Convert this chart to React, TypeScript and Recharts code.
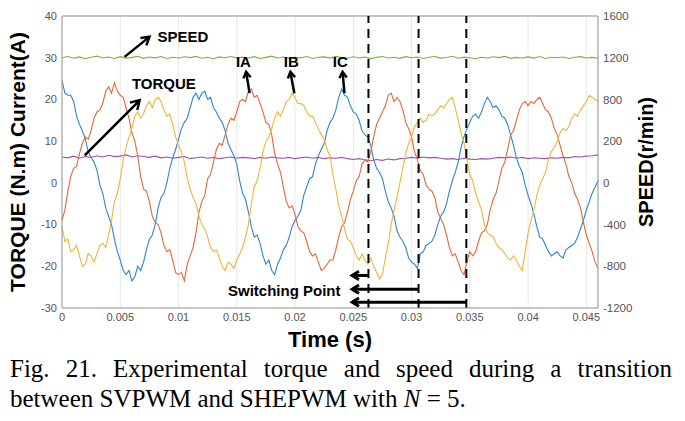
import React from 'react';
import { LineChart, Line, XAxis, YAxis, CartesianGrid, ReferenceLine, ReferenceDot } from 'recharts';

// sample times of the phase currents (s)
const time = [
    0, 0.00025, 0.0005, 0.00075, 0.001, 0.00125, 0.0015, 0.00175, 0.002, 0.00225, 0.0025, 0.00275, 0.003, 0.00325, 0.0035, 0.00375, 0.004, 0.00425, 0.0045, 0.00475,
    0.005, 0.00525, 0.0055, 0.00575, 0.006, 0.00625, 0.0065, 0.00675, 0.007, 0.00725, 0.0075, 0.00775, 0.008, 0.00825, 0.0085, 0.00875, 0.009, 0.00925, 0.0095, 0.00975,
    0.01, 0.01025, 0.0105, 0.01075, 0.011, 0.01125, 0.0115, 0.01175, 0.012, 0.01225, 0.0125, 0.01275, 0.013, 0.01325, 0.0135, 0.01375, 0.014, 0.01425, 0.0145, 0.01475,
    0.015, 0.01525, 0.0155, 0.01575, 0.016, 0.01625, 0.0165, 0.01675, 0.017, 0.01725, 0.0175, 0.01775, 0.018, 0.01825, 0.0185, 0.01875, 0.019, 0.01925, 0.0195, 0.01975,
    0.02, 0.02025, 0.0205, 0.02075, 0.021, 0.02125, 0.0215, 0.02175, 0.022, 0.02225, 0.0225, 0.02275, 0.023, 0.02325, 0.0235, 0.02375, 0.024, 0.02425, 0.0245, 0.02475,
    0.025, 0.02525, 0.0255, 0.02575, 0.026, 0.02625, 0.0265, 0.02675, 0.027, 0.02725, 0.0275, 0.02775, 0.028, 0.02825, 0.0285, 0.02875, 0.029, 0.02925, 0.0295, 0.02975,
    0.03, 0.03025, 0.0305, 0.03075, 0.031, 0.03125, 0.0315, 0.03175, 0.032, 0.03225, 0.0325, 0.03275, 0.033, 0.03325, 0.0335, 0.03375, 0.034, 0.03425, 0.0345, 0.03475,
    0.035, 0.03525, 0.0355, 0.03575, 0.036, 0.03625, 0.0365, 0.03675, 0.037, 0.03725, 0.0375, 0.03775, 0.038, 0.03825, 0.0385, 0.03875, 0.039, 0.03925, 0.0395, 0.03975,
    0.04, 0.04025, 0.0405, 0.04075, 0.041, 0.04125, 0.0415, 0.04175, 0.042, 0.04225, 0.0425, 0.04275, 0.043, 0.04325, 0.0435, 0.04375, 0.044, 0.04425, 0.0445, 0.04475,
    0.045, 0.04525, 0.0455, 0.04575, 0.046,
];

// phase currents (A)
const ia = [
    -9, -6.5, -2, 1.5, 3.5, 4, 7, 9.5, 11, 10.5, 12.5, 15.5, 17, 17.5, 19, 22, 23, 21.5, 24, 22,
    21, 20.5, 18, 15.5, 12, 10, 6.5, 1.5, -1.5, -2, -4.5, -8, -9.5, -10, -12, -15, -16.5, -16, -18.5, -21.5,
    -22, -21.5, -23.5, -19.5, -17.5, -15.5, -12, -7, -4.5, -3, 1, 2, 5, 8, 9.5, 9, 11.5, 14, 15.5, 15,
    17, 19.5, 20, 19.5, 22, 22.5, 20.5, 21, 19, 17, 14.5, 14, 11.5, 7, 4.5, 2.5, -1, -4.5, -6, -5.5,
    -7.5, -10.5, -11.5, -12, -14, -16.5, -17.5, -17, -19, -21, -20.5, -19.5, -18.5, -18.5, -16, -13, -10.5, -9.5, -7, -4,
    -2, 0.5, 1.5, 4.5, 5.5, 5, 7.5, 11, 14, 15.5, 17, 18.5, 21, 21.5, 19.5, 20.5, 19.5, 17.5, 14.5, 13,
    11, 7.5, 5.5, 3, 2, -0.5, -1.5, -2, -3.5, -7, -8.5, -10, -12.5, -15.5, -17.5, -17, -19, -21, -22, -19,
    -16.5, -17.5, -16.5, -14, -12, -11.5, -10, -6.5, -4, -2.5, 0.5, 3.5, 5, 8, 11.5, 12.5, 15, 17.5, 19, 19.5,
    18.5, 19.5, 19, 20, 20.5, 19, 17.5, 17, 15.5, 13, 11.5, 9, 6.5, 4.5, 1.5, 0, -2.5, -4, -6, -9.5,
    -12.5, -14.5, -16.5, -19, -20.5,
];

const ib = [
    -10.5, -14, -13.5, -16.5, -16, -15, -17.5, -20, -19.5, -17, -17.5, -19, -17, -15, -14.5, -15.5, -12.5, -9, -4.5, -2.5,
    1, 5.5, 8.5, 11, 13, 16, 17, 15.5, 16.5, 18.5, 19.5, 18, 20, 20.5, 19.5, 17.5, 16, 16.5, 14, 11,
    9, 7.5, 5, 1, -1.5, -3.5, -5, -8, -10, -11, -13, -15.5, -16.5, -16, -18, -20, -21, -19, -19.5, -20.5,
    -18.5, -17, -15.5, -13, -10, -5, -1, 0.5, 3.5, 7.5, 10, 11, 13, 15.5, 17, 16, 17.5, 19.5, 20, 21.5,
    20.5, 19, 19, 18.5, 17, 16, 16, 14.5, 13, 11.5, 10.5, 8, 6.5, 2, -1.5, -5.5, -8, -11, -13.5, -14,
    -15.5, -17.5, -18.5, -17, -18.5, -19.5, -18, -20, -21.5, -23, -22, -18, -14.5, -10, -6.5, -3.5, 0, 3.5, 7, 9.5,
    11, 13.5, 14.5, 15.5, 14.5, 15, 16.5, 16, 16.5, 17.5, 18.5, 18, 19, 20, 20.5, 18, 15, 12, 9.5, 5.5,
    2, 0.5, -2.5, -4.5, -6.5, -10, -12, -12.5, -13, -14.5, -15.5, -16, -17, -18, -18.5, -17.5, -18.5, -20, -21, -16.5,
    -12, -9, -6.5, -3, -0.5, 1, 2.5, 5.5, 7.5, 8.5, 10, 12, 13, 12.5, 13.5, 15.5, 16.5, 16, 17.5, 18.5,
    19.5, 21, 20.5, 20, 19.5,
];

const ic = [
    24.5, 21.5, 21, 21, 19.5, 16, 14, 12.5, 10.5, 7.5, 6, 5, 3, -0.5, -2.5, -6, -8, -10, -13.5, -16.5,
    -18.5, -21, -22, -21, -23.5, -22.5, -20, -21, -19, -16, -13.5, -12.5, -10, -6, -3.5, -2.5, 0, 3.5, 6, 8,
    10.5, 13, 14.5, 15.5, 18, 20.5, 21.5, 20, 21.5, 22, 20, 20.5, 18, 17, 15.5, 14.5, 12.5, 9.5, 8, 6.5,
    4.5, 0.5, -2.5, -4, -7, -10.5, -13, -12.5, -14.5, -17.5, -19.5, -18.5, -21, -22, -19.5, -18, -16, -15, -13, -10.5,
    -9, -8, -6.5, -3, -1, 1, 1.5, 4.5, 6.5, 8, 9.5, 12.5, 14.5, 15.5, 17.5, 20.5, 22.5, 21, 20.5, 18.5,
    17, 16.5, 15, 12.5, 11.5, 11, 9, 5.5, 3.5, 2.5, 1, -2, -4.5, -6, -8, -11.5, -13, -14, -15.5, -18,
    -19, -19.5, -20.5, -17, -16.5, -15, -14.5, -14, -12.5, -10, -8, -7, -5, -2, 0.5, 2.5, 5, 8.5, 11, 13,
    14.5, 16, 16.5, 15.5, 17, 19, 20.5, 19.5, 18, 18.5, 17.5, 16, 15.5, 14, 11.5, 9, 6, 4, 2.5, -0.5,
    -3, -5, -7.5, -10.5, -13, -13.5, -15, -16.5, -17.5, -17, -16.5, -17.5, -18, -16, -15.5, -15, -14.5, -13, -11, -9,
    -6.5, -4.5, -2.5, -1, 0.5,
];

// sample times of torque and speed (s)
const slowTime = [
    0, 0.0005, 0.001, 0.0015, 0.002, 0.0025, 0.003, 0.0035, 0.004, 0.0045,
    0.005, 0.0055, 0.006, 0.0065, 0.007, 0.0075, 0.008, 0.0085, 0.009, 0.0095,
    0.01, 0.0105, 0.011, 0.0115, 0.012, 0.0125, 0.013, 0.0135, 0.014, 0.0145,
    0.015, 0.0155, 0.016, 0.0165, 0.017, 0.0175, 0.018, 0.0185, 0.019, 0.0195,
    0.02, 0.0205, 0.021, 0.0215, 0.022, 0.0225, 0.023, 0.0235, 0.024, 0.0245,
    0.025, 0.0255, 0.026, 0.0265, 0.027, 0.0275, 0.028, 0.0285, 0.029, 0.0295,
    0.03, 0.0305, 0.031, 0.0315, 0.032, 0.0325, 0.033, 0.0335, 0.034, 0.0345,
    0.035, 0.0355, 0.036, 0.0365, 0.037, 0.0375, 0.038, 0.0385, 0.039, 0.0395,
    0.04, 0.0405, 0.041, 0.0415, 0.042, 0.0425, 0.043, 0.0435, 0.044, 0.0445,
    0.045, 0.0455, 0.046,
];

// torque (N.m)
const torque = [
    6.2, 6.0, 6.4, 5.9, 6.3, 6.1, 6.5, 6.2, 6.6, 6.3,
    6.4, 6.7, 6.2, 6.5, 6.3, 6.1, 6.4, 6.0, 6.2, 5.9,
    6.1, 6.3, 5.8, 6.0, 6.2, 5.9, 6.1, 5.8, 6.0, 6.2,
    5.9, 6.1, 6.0, 5.8, 6.1, 5.9, 6.2, 6.0, 5.9, 6.1,
    5.8, 6.0, 6.2, 5.9, 6.1, 5.8, 6.0, 5.9, 6.1, 5.8,
    5.6, 5.8, 5.5, 5.3, 5.6, 5.4, 5.7, 5.5, 5.8, 5.9,
    6.1, 5.9, 6.2, 6.0, 6.1, 5.9, 5.7, 5.8, 5.6, 5.9,
    5.7, 5.6, 5.8, 5.7, 5.9, 6.1, 6.0, 6.2, 5.9, 6.1,
    5.8, 6.0, 5.9, 5.8, 6.0, 5.9, 6.1, 6.0, 6.3, 6.2,
    6.4, 6.5, 6.7,
];

// speed (r/min)
const speed = [
    1200, 1212, 1195, 1208, 1190, 1204, 1215, 1198, 1206, 1192,
    1210, 1196, 1203, 1214, 1194, 1207, 1199, 1211, 1193, 1205,
    1197, 1209, 1201, 1213, 1195, 1204, 1190, 1208, 1200, 1212,
    1196, 1206, 1198, 1210, 1193, 1203, 1215, 1197, 1207, 1194,
    1205, 1199, 1211, 1192, 1204, 1208, 1196, 1213, 1201, 1195,
    1209, 1197, 1206, 1191, 1203, 1212, 1198, 1205, 1194, 1210,
    1200, 1207, 1193, 1204, 1211, 1196, 1202, 1214, 1195, 1206,
    1199, 1190, 1205, 1197, 1209, 1201, 1213, 1194, 1203, 1198,
    1208, 1196, 1211, 1193, 1205, 1200, 1207, 1192, 1204, 1210,
    1197, 1203, 1195,
];

const xTicks = [0, 0.005, 0.01, 0.015, 0.02, 0.025, 0.03, 0.035, 0.04, 0.045];
const leftTicks = [-30, -20, -10, 0, 10, 20, 30, 40];
const speedTicks = [-1200, -800, -400, 0, 400, 800, 1200, 1600];
const speedTickLabels = ['-1200', '-800', '-400', '0', '200', '800', '1200', '1600'];
const switchTimes = [0.0263, 0.0306, 0.0347];

const currentData = time.map((t, i) => ({ t, ia: ia[i], ib: ib[i], ic: ic[i] }));
const slowData = slowTime.map((t, i) => ({ t, torque: torque[i], speed: speed[i] }));

const FONT = '"Liberation Sans", Arial, sans-serif';

// straight line with an open arrow head at (x2, y2)
const arrow = (w: number, head: number) => (props: any) => {
    const { x1, y1, x2, y2 } = props;
    const a = Math.atan2(y2 - y1, x2 - x1);
    const s = 0.55;
    const p1 = [x2 - head * Math.cos(a - s), y2 - head * Math.sin(a - s)];
    const p2 = [x2 - head * Math.cos(a + s), y2 - head * Math.sin(a + s)];
    return (
        <g>
            <line x1={x1} y1={y1} x2={x2} y2={y2} stroke="#000" strokeWidth={w} />
            <polyline
                points={`${p1[0]},${p1[1]} ${x2},${y2} ${p2[0]},${p2[1]}`}
                fill="none"
                stroke="#000"
                strokeWidth={w}
            />
        </g>
    );
};

const label = (text: string, size: number, anchor: string = 'start') => (props: any) => (
    <text
        x={props.cx}
        y={props.cy}
        fontFamily={FONT}
        fontWeight="bold"
        fontSize={size}
        textAnchor={anchor}
        dominantBaseline="central"
        fill="#000"
    >
        {text}
    </text>
);

const App = () => {
    return (
        <div style={{ position: 'absolute', left: 0, top: 0, width: 685, height: 421, background: '#fff' }}>
            <LineChart width={685} height={356} margin={{ top: 16, right: 37, left: 12, bottom: 0 }}>
                <CartesianGrid stroke="#e8e8e8" />
                <XAxis
                    dataKey="t"
                    type="number"
                    domain={[0, 0.046]}
                    ticks={xTicks}
                    height={48}
                    tickLine={false}
                    tickSize={3}
                    axisLine={{ stroke: '#9a9a9a' }}
                    tick={{ fontSize: 11, fill: '#555', fontFamily: FONT }}
                    label={{ value: 'Time (s)', position: 'insideBottom', offset: 9, style: { fontSize: 22, fontWeight: 'bold', fill: '#000', fontFamily: FONT } }}
                />
                <YAxis
                    yAxisId="left"
                    domain={[-30, 40]}
                    ticks={leftTicks}
                    width={50}
                    tickLine={false}
                    tickSize={3}
                    axisLine={{ stroke: '#9a9a9a' }}
                    tick={{ fontSize: 11, fill: '#555', fontFamily: FONT }}
                    label={{ value: 'TORQUE (N.m) Current(A)', angle: -90, position: 'insideLeft', offset: 6, style: { textAnchor: 'middle', fontSize: 21, fontWeight: 'bold', fill: '#000', fontFamily: FONT } }}
                />
                <YAxis
                    yAxisId="right"
                    orientation="right"
                    domain={[-1200, 1600]}
                    ticks={speedTicks}
                    tickFormatter={(v: number) => speedTickLabels[speedTicks.indexOf(v)]}
                    width={50}
                    tickLine={false}
                    tickSize={3}
                    axisLine={{ stroke: '#9a9a9a' }}
                    tick={{ fontSize: 11.5, fill: '#555', fontFamily: FONT }}
                    label={{ value: 'SPEED(r/min)', angle: -90, position: 'insideRight', offset: 2, style: { textAnchor: 'middle', fontSize: 20, fontWeight: 'bold', fill: '#000', fontFamily: FONT } }}
                />
                <ReferenceLine yAxisId="left" y={40} stroke="#9a9a9a" />

                <Line data={slowData} yAxisId="right" type="linear" dataKey="speed" stroke="#7cb342" strokeWidth={1.1} dot={false} isAnimationActive={false} />
                <Line data={slowData} yAxisId="left" type="linear" dataKey="torque" stroke="#9b51b3" strokeWidth={1.1} dot={false} isAnimationActive={false} />
                <Line data={currentData} yAxisId="left" type="linear" dataKey="ic" stroke="#2f86c9" strokeWidth={1.1} dot={false} isAnimationActive={false} />
                <Line data={currentData} yAxisId="left" type="linear" dataKey="ia" stroke="#dd6a3d" strokeWidth={1.1} dot={false} isAnimationActive={false} />
                <Line data={currentData} yAxisId="left" type="linear" dataKey="ib" stroke="#ecb63a" strokeWidth={1.1} dot={false} isAnimationActive={false} />

                {switchTimes.map((x) => (
                    <ReferenceLine key={x} yAxisId="left" x={x} stroke="#000" strokeWidth={2} strokeDasharray="9 6" />
                ))}

                {/* annotations */}
                <ReferenceLine yAxisId="left" segment={[{ x: 0.00537, y: 30.2 }, { x: 0.0075, y: 35 }]} shape={arrow(2.5, 9)} />
                <ReferenceDot yAxisId="left" x={0.0082} y={35.2} r={0} shape={label('SPEED', 15)} />
                <ReferenceLine yAxisId="left" segment={[{ x: 0.00195, y: 6.6 }, { x: 0.00666, y: 19.8 }]} shape={arrow(2.5, 10)} />
                <ReferenceDot yAxisId="left" x={0.0060} y={23.8} r={0} shape={label('TORQUE', 15)} />

                <ReferenceLine yAxisId="left" segment={[{ x: 0.0161, y: 21.5 }, { x: 0.0158, y: 26.6 }]} shape={arrow(2.5, 7)} />
                <ReferenceDot yAxisId="left" x={0.01557} y={29} r={0} shape={label('IA', 15, 'middle')} />
                <ReferenceLine yAxisId="left" segment={[{ x: 0.01994, y: 21.5 }, { x: 0.0196, y: 26.6 }]} shape={arrow(2.5, 7)} />
                <ReferenceDot yAxisId="left" x={0.01968} y={29} r={0} shape={label('IB', 15, 'middle')} />
                <ReferenceLine yAxisId="left" segment={[{ x: 0.02424, y: 21.5 }, { x: 0.02408, y: 26.6 }]} shape={arrow(2.5, 7)} />
                <ReferenceDot yAxisId="left" x={0.02388} y={29} r={0} shape={label('IC', 15, 'middle')} />

                <ReferenceLine yAxisId="left" segment={[{ x: 0.0263, y: -22.2 }, { x: 0.0249, y: -22.2 }]} shape={arrow(3, 8)} />
                <ReferenceLine yAxisId="left" segment={[{ x: 0.0306, y: -25.5 }, { x: 0.0249, y: -25.5 }]} shape={arrow(3, 8)} />
                <ReferenceLine yAxisId="left" segment={[{ x: 0.0347, y: -28.6 }, { x: 0.0249, y: -28.6 }]} shape={arrow(3, 8)} />
                <ReferenceDot yAxisId="left" x={0.01425} y={-25.8} r={0} shape={label('Switching Point', 15)} />
            </LineChart>
            <div
                style={{
                    position: 'absolute',
                    left: 10,
                    top: 354,
                    width: 662,
                    fontFamily: '"Liberation Serif", "Times New Roman", serif',
                    fontSize: 25,
                    lineHeight: '30px',
                    color: '#000',
                }}
            >
                <div style={{ textAlign: 'justify', textAlignLast: 'justify' }}>
                    Fig. 21. Experimental torque and speed during a transition
                </div>
                <div>
                    between SVPWM and SHEPWM with <i>N</i> = 5.
                </div>
            </div>
        </div>
    );
};

export default App;
